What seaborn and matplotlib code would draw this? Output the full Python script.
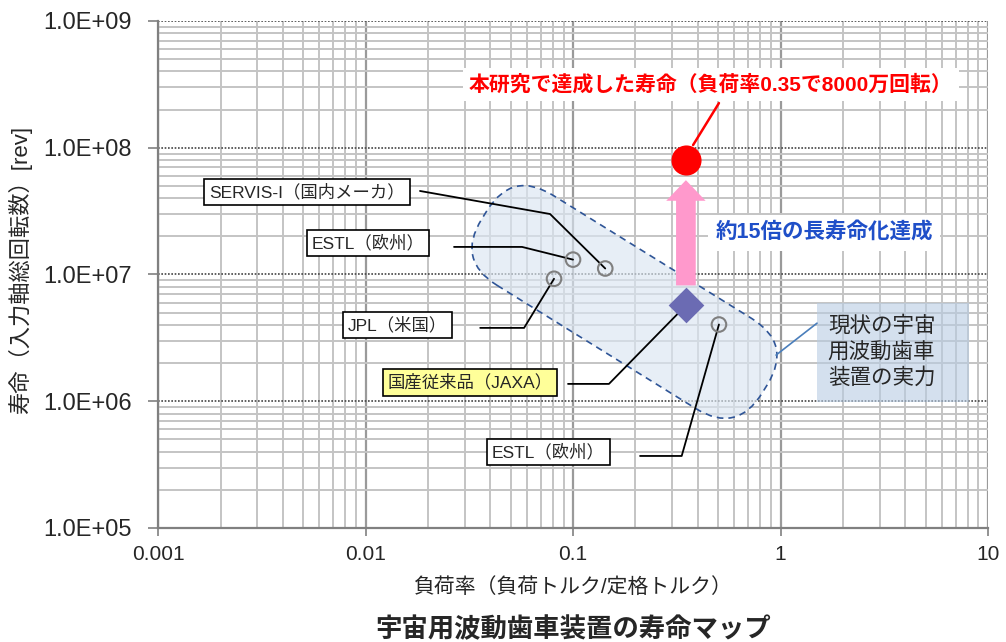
import numpy as np
import pandas as pd
import matplotlib
matplotlib.use("Agg")
import matplotlib.pyplot as plt
import matplotlib.ticker as mticker
from matplotlib.patches import FancyBboxPatch, Rectangle
from matplotlib.transforms import Affine2D
import seaborn as sns

# --- data ---
prior_names = ["ESTL（欧州）", "SERVIS-I（国内メーカ）", "JPL（米国）", "ESTL（欧州）"]
prior_load = [0.10, 0.143, 0.081, 0.505]
prior_life = [1.31e7, 1.115e7, 9.25e6, 4.03e6]

jaxa_name = "国産従来品（JAXA）"
jaxa_load = [0.35]
jaxa_life = [5.7e6]

study_load = [0.35]
study_life = [8.0e7]

x_ticks = [0.001, 0.01, 0.1, 1, 10]
y_ticks = [1e5, 1e6, 1e7, 1e8, 1e9]

# label placement (box centre, leader start, leader elbow) in data coords
prior_label_pos = [(0.01028, 1.77e7), (0.00522, 4.48e7), (0.01425, 4.0e6), (0.0762, 3.98e5)]
prior_leader = [[(0.0267, 1.65e7), (0.0568, 1.65e7)],
                [(0.0183, 4.56e7), (0.0775, 3.0e7)],
                [(0.0357, 3.79e6), (0.0581, 3.79e6)],
                [(0.2104, 3.70e5), (0.334, 3.70e5)]]
jaxa_label_pos = (0.0319, 1.406e6)
jaxa_leader = [(0.0946, 1.37e6), (0.149, 1.37e6)]

prior = pd.DataFrame({"name": prior_names, "load": prior_load, "life": prior_life})
jaxa = pd.DataFrame({"load": jaxa_load, "life": jaxa_life})
study = pd.DataFrame({"load": study_load, "life": study_life})

sns.set_theme(style="white")
plt.rcParams["font.family"] = ["Liberation Sans", "Noto Sans CJK JP"]

fig = plt.figure(figsize=(10.06, 6.42), dpi=100)
ax = fig.add_axes([0.1571, 0.1776, 0.825, 0.7897])
ax.set_xscale("log")
ax.set_yscale("log")
ax.set_xlim(1e-3, 10)
ax.set_ylim(1e5, 1e9)

# grid
ax.set_axisbelow(True)
ax.xaxis.set_minor_locator(mticker.LogLocator(base=10, subs=np.arange(2, 10), numticks=50))
ax.yaxis.set_minor_locator(mticker.LogLocator(base=10, subs=np.arange(2, 10), numticks=50))
ax.xaxis.set_major_locator(mticker.FixedLocator(x_ticks))
ax.yaxis.set_major_locator(mticker.FixedLocator(y_ticks))
ax.grid(which="minor", color="#c4c4c4", lw=1.4)
ax.xaxis.grid(which="major", color="#9a9a9a", lw=1.6)
ax.yaxis.grid(which="major", color="#444444", lw=1.2, ls=(0, (1, 1)))

ax.xaxis.set_major_formatter(mticker.FuncFormatter(lambda v, p: f"{v:g}"))
ax.yaxis.set_major_formatter(mticker.FuncFormatter(lambda v, p: f"{v:.1E}"))
ax.tick_params(which="minor", length=0)
ax.tick_params(axis="y", which="major", length=7, width=1.2, color="#808080",
               labelsize=17, pad=12, left=True)
ax.tick_params(axis="x", which="major", length=6, width=1.2, color="#808080",
               labelsize=15, pad=6, bottom=True)
for s in ["top", "right"]:
    ax.spines[s].set_visible(False)
for s in ["left", "bottom"]:
    ax.spines[s].set_color("#808080")
    ax.spines[s].set_linewidth(1.6)

# capsule region "current capability"
cx, cy = ax.transData.transform((0.177, 6.07e6))
cap = FancyBboxPatch((-165, -53), 330, 106, boxstyle="round,pad=0,rounding_size=48",
                     transform=Affine2D().rotate_deg(-31.8).translate(cx, cy),
                     fc=(0.86, 0.90, 0.95, 0.65), ec="#2f5597", lw=1.2, ls=(0, (4, 3)),
                     zorder=1.5)
ax.add_patch(cap)

# leader lines
for (lx, ly), pts, px, py in zip(prior_label_pos, prior_leader, prior_load, prior_life):
    xs = [p[0] for p in pts] + [px]
    ys = [p[1] for p in pts] + [py]
    ax.plot(xs, ys, color="black", lw=1.3, zorder=3)
ax.plot([p[0] for p in jaxa_leader] + jaxa_load, [p[1] for p in jaxa_leader] + jaxa_life,
        color="black", lw=1.3, zorder=3)

# points
sns.scatterplot(data=prior, x="load", y="life", marker="o", s=110, ax=ax, zorder=4,
                linewidth=1.5, legend=False)
ax.collections[-1].set_facecolor("none")
ax.collections[-1].set_edgecolor("#7f7f7f")
sns.scatterplot(data=jaxa, x="load", y="life", marker="D", s=330, color="#6b6bb3",
                linewidth=0, ax=ax, zorder=4, legend=False)
sns.scatterplot(data=study, x="load", y="life", marker="o", s=470, color="#ff0000",
                linewidth=0, ax=ax, zorder=4, legend=False)

# pink arrow
ax.annotate("", xy=(study_load[0], 5.55e7), xytext=(jaxa_load[0], 8.2e6),
            arrowprops=dict(arrowstyle="simple,head_length=11,head_width=21,tail_width=10.5",
                            mutation_scale=1.35, fc="#ff99cc", ec="none",
                            shrinkA=0, shrinkB=0), zorder=3.5)

# label boxes
for (lx, ly), name in zip(prior_label_pos, prior_names):
    ax.text(lx, ly, name, ha="center", va="center", fontsize=12.5, zorder=5,
            bbox=dict(boxstyle="square,pad=0.28", fc="white", ec="black", lw=1.2))
ax.text(*jaxa_label_pos, jaxa_name, ha="center", va="center", fontsize=12.5, zorder=5,
        bbox=dict(boxstyle="square,pad=0.28", fc="#ffff99", ec="black", lw=1.2))

# headline annotations
ax.plot([0.505, 0.379], [2.25e8, 1.05e8], color="red", lw=1.8, zorder=3)
ax.text(0.462, 3.18e8, "本研究で達成した寿命（負荷率0.35で8000万回転）", color="red",
        fontsize=15, fontweight="bold", ha="center", va="center", zorder=5,
        bbox=dict(boxstyle="square,pad=0.3", fc="white", ec="none"))
ax.text(1.62, 2.12e7, "約15倍の長寿命化達成", color="#1f4fc8",
        fontsize=15.5, fontweight="bold", ha="center", va="center", zorder=5,
        bbox=dict(boxstyle="square,pad=0.35", fc="white", ec="none"))

# callout
ax.add_patch(Rectangle((0.794, 0.2485), 0.183, 0.195, transform=ax.transAxes,
                       fc=(0.72, 0.80, 0.89, 0.6), ec="none", zorder=4))
ax.plot([0.7446, 0.794], [0.341, 0.404], transform=ax.transAxes, color="#4a7ebb",
        lw=1.2, zorder=4)
ax.text(0.807, 0.347, "現状の宇宙\n用波動歯車\n装置の実力", transform=ax.transAxes,
        fontsize=15.5, ha="left", va="center", linespacing=1.3, zorder=5)

ax.set_xlabel("")
ax.set_ylabel("")
fig.text(0.0199, 0.579, "寿命（入力軸総回転数）[rev]", rotation=90, fontsize=16,
         ha="center", va="center")
fig.text(0.5696, 0.0857, "負荷率（負荷トルク/定格トルク）", fontsize=15, ha="center", va="center")
fig.text(0.5696, 0.0202, "宇宙用波動歯車装置の寿命マップ", fontsize=19, fontweight="bold",
         ha="center", va="center")

fig.savefig("out.png", dpi=100)
